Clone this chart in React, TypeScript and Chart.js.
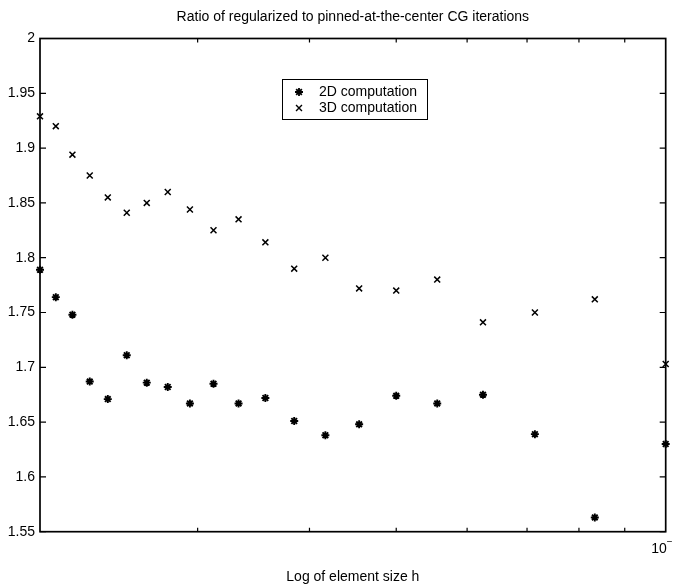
import React, { useEffect, useRef } from "react";
import { Chart, registerables } from "chart.js";

Chart.register(...registerables);

// element size h (x values, log axis)
const H_VALUES = [
  0.02, 0.02083, 0.02174, 0.02273, 0.02381, 0.025, 0.02632, 0.02778, 0.02941, 0.03125,
  0.03333, 0.03571, 0.03846, 0.04167, 0.04545, 0.05, 0.05556, 0.0625, 0.07143, 0.08333, 0.1,
];
const RATIO_2D = [
  1.789, 1.764, 1.748, 1.687, 1.671, 1.711, 1.686, 1.682, 1.667, 1.685,
  1.667, 1.672, 1.651, 1.638, 1.648, 1.674, 1.667, 1.675, 1.639, 1.563, 1.63,
];
const RATIO_3D = [
  1.929, 1.92, 1.894, 1.875, 1.855, 1.841, 1.85, 1.86, 1.844, 1.825,
  1.835, 1.814, 1.79, 1.8, 1.772, 1.77, 1.78, 1.741, 1.75, 1.762, 1.703,
];
const Y_TICKS = [1.55, 1.6, 1.65, 1.7, 1.75, 1.8, 1.85, 1.9, 1.95, 2];
const X_MINOR_TICKS = [0.03, 0.04, 0.05, 0.06, 0.07, 0.08, 0.09];
const X_MAJOR_TICK = 0.1;
const TITLE = "Ratio of regularized to pinned-at-the-center CG iterations";
const X_LABEL = "Log of element size h";
const LEGEND_LABELS = ["2D computation", "3D computation"];

const FONT = "'Liberation Sans', Arial, Helvetica, sans-serif";

function drawStar(ctx: CanvasRenderingContext2D, x: number, y: number, r: number) {
  ctx.beginPath();
  ctx.moveTo(x - r, y); ctx.lineTo(x + r, y);
  ctx.moveTo(x, y - r); ctx.lineTo(x, y + r);
  const d = r * Math.SQRT1_2;
  ctx.moveTo(x - d, y - d); ctx.lineTo(x + d, y + d);
  ctx.moveTo(x - d, y + d); ctx.lineTo(x + d, y - d);
  ctx.stroke();
}
function drawCross(ctx: CanvasRenderingContext2D, x: number, y: number, r: number) {
  const d = r * Math.SQRT1_2;
  ctx.beginPath();
  ctx.moveTo(x - d, y - d); ctx.lineTo(x + d, y + d);
  ctx.moveTo(x - d, y + d); ctx.lineTo(x + d, y - d);
  ctx.stroke();
}

const framePlugin = {
  id: "matlabFrame",
  afterDraw(chart: any) {
    const ctx: CanvasRenderingContext2D = chart.ctx;
    const { left, right, top, bottom } = chart.chartArea;
    const xs = chart.scales.x;
    const ys = chart.scales.y;
    ctx.save();
    ctx.strokeStyle = "#000";
    ctx.fillStyle = "#000";
    ctx.lineWidth = 1.7;
    ctx.strokeRect(left, top, right - left, bottom - top);

    // y ticks (inward, both sides) + labels
    ctx.lineWidth = 1.2;
    ctx.font = `14px ${FONT}`;
    ctx.textAlign = "right";
    ctx.textBaseline = "middle";
    for (const v of Y_TICKS) {
      const py = ys.getPixelForValue(v);
      ctx.beginPath();
      ctx.moveTo(left, py); ctx.lineTo(left + 6, py);
      ctx.moveTo(right, py); ctx.lineTo(right - 6, py);
      ctx.stroke();
      ctx.fillText(String(Number(v.toFixed(2))), left - 5, py);
    }
    // x minor ticks (inward, top and bottom)
    for (const v of X_MINOR_TICKS) {
      const px = xs.getPixelForValue(v);
      ctx.beginPath();
      ctx.moveTo(px, bottom); ctx.lineTo(px, bottom - 4);
      ctx.moveTo(px, top); ctx.lineTo(px, top + 4);
      ctx.stroke();
    }
    // major tick label 10^-1
    const mx = xs.getPixelForValue(X_MAJOR_TICK);
    ctx.textAlign = "right";
    ctx.textBaseline = "alphabetic";
    ctx.font = `14px ${FONT}`;
    ctx.fillText("10", mx + 1, bottom + 21);
    ctx.textAlign = "left";
    ctx.font = `10px ${FONT}`;
    ctx.fillText("\u22121", mx + 1, bottom + 13);

    // title
    ctx.font = `14px ${FONT}`;
    ctx.textAlign = "center";
    ctx.textBaseline = "middle";
    ctx.fillText(TITLE, (left + right) / 2, 17);
    // x label
    ctx.fillText(X_LABEL, (left + right) / 2, 577);

    // legend
    const lx = 282, ly = 79, lw = 145, lh = 40;
    ctx.fillStyle = "#fff";
    ctx.fillRect(lx, ly, lw, lh);
    ctx.lineWidth = 1;
    ctx.strokeRect(lx + 0.5, ly + 0.5, lw, lh);
    ctx.fillStyle = "#000";
    ctx.textAlign = "left";
    ctx.font = `14px ${FONT}`;
    ctx.lineWidth = 1.8;
    drawStar(ctx, 299, ly + 13, 4);
    ctx.fillText(LEGEND_LABELS[0], 319, ly + 13);
    ctx.lineWidth = 1.4;
    drawCross(ctx, 299, ly + 29, 4.2);
    ctx.fillText(LEGEND_LABELS[1], 319, ly + 29);
    ctx.restore();
  },
};

export default function App() {
  const canvasRef = useRef<HTMLCanvasElement | null>(null);
  useEffect(() => {
    if (!canvasRef.current) return;
    const chart = new Chart(canvasRef.current, {
      type: "scatter",
      data: {
        datasets: [
          {
            label: LEGEND_LABELS[0],
            data: H_VALUES.map((h, i) => ({ x: h, y: RATIO_2D[i] })),
            pointStyle: "star",
            pointRadius: 4,
            pointBorderWidth: 1.9,
            borderColor: "#000",
            backgroundColor: "#000",
            clip: false,
          },
          {
            label: LEGEND_LABELS[1],
            data: H_VALUES.map((h, i) => ({ x: h, y: RATIO_3D[i] })),
            pointStyle: "crossRot",
            pointRadius: 4.2,
            pointBorderWidth: 1.5,
            borderColor: "#000",
            backgroundColor: "#000",
            clip: false,
          },
        ],
      },
      options: {
        animation: false,
        responsive: true,
        maintainAspectRatio: false,
        layout: { padding: { left: 40, right: 7.3, top: 38.5, bottom: 54.3 } },
        plugins: { legend: { display: false }, tooltip: { enabled: false }, title: { display: false } },
        scales: {
          x: { type: "logarithmic", min: 0.02, max: 0.1, display: false },
          y: { type: "linear", min: 1.55, max: 2, display: false },
        },
        events: [],
      },
      plugins: [framePlugin],
    });
    return () => chart.destroy();
  }, []);
  return (
    <div style={{ position: "fixed", left: 0, top: 0, width: 673, height: 586, background: "#fff" }}>
      <canvas ref={canvasRef} />
    </div>
  );
}
